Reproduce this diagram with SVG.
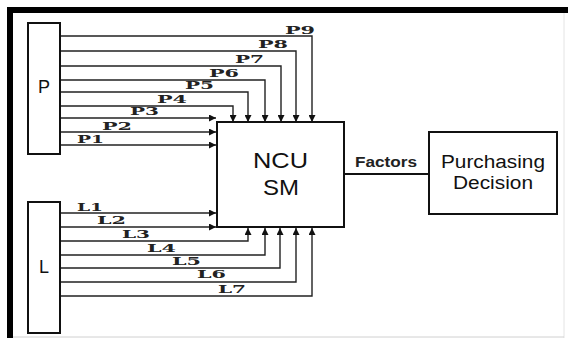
<svg xmlns="http://www.w3.org/2000/svg" width="568" height="338" viewBox="0 0 568 338">
<style>
.box{fill:#fff;stroke:#111;stroke-width:2}
.ln{fill:none;stroke:#222;stroke-width:1.4}
.lbl{font-family:"DejaVu Serif",serif;font-weight:bold;font-size:11px;fill:#222}
.big{font-family:"Liberation Sans",Arial,sans-serif;fill:#111;text-anchor:middle}
</style>
<defs>
<marker id="ah" viewBox="0 0 10 10" refX="10" refY="5" markerWidth="9" markerHeight="7" markerUnits="userSpaceOnUse" orient="auto">
<path d="M0,0 L10,5 L0,10 Z" fill="#111"/>
</marker>
</defs>
<rect width="568" height="338" fill="#fff"/>
<g id="frame">
<rect x="7" y="7" width="561" height="6" fill="#000"/>
<rect x="7" y="7" width="6" height="331" fill="#000"/>
<line x1="564" y1="13" x2="564" y2="338" stroke="#e4e4e4" stroke-width="1"/>
<line x1="13" y1="337" x2="564" y2="337" stroke="#d0d0d0" stroke-width="1"/>
</g>
<g id="connectors">
<path class="ln" d="M60,36 H312 V122" marker-end="url(#ah)"/>
<path class="ln" d="M60,51 H296 V122" marker-end="url(#ah)"/>
<path class="ln" d="M60,66 H281 V122" marker-end="url(#ah)"/>
<path class="ln" d="M60,80 H265 V122" marker-end="url(#ah)"/>
<path class="ln" d="M60,92 H248 V122" marker-end="url(#ah)"/>
<path class="ln" d="M60,106 H233 V122" marker-end="url(#ah)"/>
<path class="ln" d="M60,118 H216" marker-end="url(#ah)"/>
<path class="ln" d="M60,132 H216" marker-end="url(#ah)"/>
<path class="ln" d="M60,145 H216" marker-end="url(#ah)"/>
<path class="ln" d="M60,213 H216" marker-end="url(#ah)"/>
<path class="ln" d="M60,227 H216" marker-end="url(#ah)"/>
<path class="ln" d="M60,241 H248 V228" marker-end="url(#ah)"/>
<path class="ln" d="M60,255 H265 V228" marker-end="url(#ah)"/>
<path class="ln" d="M60,268 H280 V228" marker-end="url(#ah)"/>
<path class="ln" d="M60,282 H296 V228" marker-end="url(#ah)"/>
<path class="ln" d="M60,296 H312 V228" marker-end="url(#ah)"/>
<line x1="344" y1="174" x2="429" y2="174" stroke="#111" stroke-width="2"/>
<text x="355" y="167" font-family="Liberation Sans,Arial,sans-serif" font-weight="bold" font-size="14" fill="#222" textLength="62" lengthAdjust="spacingAndGlyphs">Factors</text>
<text class="lbl" x="285" y="34" textLength="30" lengthAdjust="spacingAndGlyphs">P9</text>
<text class="lbl" x="258" y="48" textLength="30" lengthAdjust="spacingAndGlyphs">P8</text>
<text class="lbl" x="235" y="63" textLength="29" lengthAdjust="spacingAndGlyphs">P7</text>
<text class="lbl" x="209" y="77" textLength="30" lengthAdjust="spacingAndGlyphs">P6</text>
<text class="lbl" x="185" y="89" textLength="29" lengthAdjust="spacingAndGlyphs">P5</text>
<text class="lbl" x="157" y="103" textLength="30" lengthAdjust="spacingAndGlyphs">P4</text>
<text class="lbl" x="130" y="115" textLength="29" lengthAdjust="spacingAndGlyphs">P3</text>
<text class="lbl" x="102" y="130" textLength="30" lengthAdjust="spacingAndGlyphs">P2</text>
<text class="lbl" x="77" y="143" textLength="27" lengthAdjust="spacingAndGlyphs">P1</text>
<text class="lbl" x="77" y="211" textLength="26" lengthAdjust="spacingAndGlyphs">L1</text>
<text class="lbl" x="97" y="224" textLength="29" lengthAdjust="spacingAndGlyphs">L2</text>
<text class="lbl" x="122" y="238" textLength="28" lengthAdjust="spacingAndGlyphs">L3</text>
<text class="lbl" x="147" y="252" textLength="29" lengthAdjust="spacingAndGlyphs">L4</text>
<text class="lbl" x="172" y="265" textLength="29" lengthAdjust="spacingAndGlyphs">L5</text>
<text class="lbl" x="197" y="278" textLength="29" lengthAdjust="spacingAndGlyphs">L6</text>
<text class="lbl" x="218" y="293" textLength="28" lengthAdjust="spacingAndGlyphs">L7</text>
</g>
<g id="node-P">
<rect class="box" x="28" y="23" width="32" height="131"/>
<text class="big" x="44" y="93" font-size="18">P</text>
</g>
<g id="node-L">
<rect class="box" x="28" y="202" width="32" height="131"/>
<text class="big" x="44" y="273" font-size="18">L</text>
</g>
<g id="node-NCU">
<rect class="box" x="217" y="122" width="127" height="105"/>
<text class="big" x="280.5" y="168" font-size="22" textLength="55" lengthAdjust="spacingAndGlyphs">NCU</text>
<text class="big" x="281" y="195" font-size="22" textLength="36" lengthAdjust="spacingAndGlyphs">SM</text>
</g>
<g id="node-PD">
<rect class="box" x="429" y="132" width="128" height="82"/>
<text class="big" x="493" y="168" font-size="18" textLength="104" lengthAdjust="spacingAndGlyphs">Purchasing</text>
<text class="big" x="493" y="189" font-size="18" textLength="80" lengthAdjust="spacingAndGlyphs">Decision</text>
</g>
</svg>
